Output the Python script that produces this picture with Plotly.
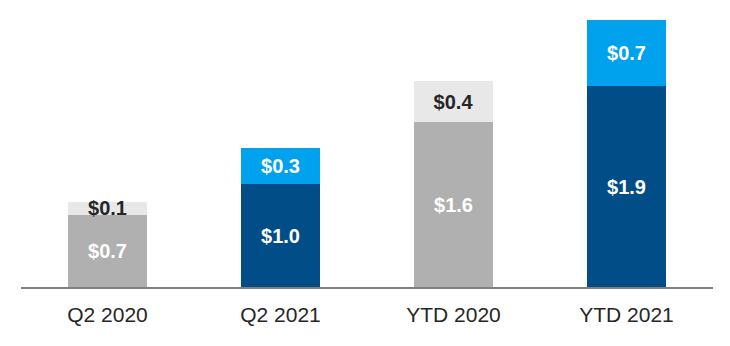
import plotly.graph_objects as go

categories = ["Q2 2020", "Q2 2021", "YTD 2020", "YTD 2021"]
base_values = [0.7, 1.0, 1.6, 1.95]
top_values = [0.13, 0.35, 0.4, 0.64]
base_labels = ["$0.7", "$1.0", "$1.6", "$1.9"]
top_labels = ["$0.1", "$0.3", "$0.4", "$0.7"]

base_colors = ["#b0b0b0", "#014d88", "#b0b0b0", "#014d88"]
top_colors = ["#e8e8e8", "#00a2ee", "#e8e8e8", "#00a2ee"]
top_text_colors = ["#262626", "#ffffff", "#262626", "#ffffff"]

font_family = "Liberation Sans, Arial, sans-serif"

fig = go.Figure()
fig.add_trace(go.Bar(
    x=categories, y=base_values, text=base_labels,
    marker=dict(color=base_colors, line=dict(width=0)),
    textposition="inside", insidetextanchor="middle", constraintext="none",
    textfont=dict(family=font_family, size=20, color="#ffffff", weight="bold"),
    width=0.462, cliponaxis=False, hoverinfo="skip",
))
fig.add_trace(go.Bar(
    x=categories, y=top_values, text=top_labels,
    marker=dict(color=top_colors, line=dict(width=0)),
    textposition="inside", insidetextanchor="middle", constraintext="none",
    textfont=dict(family=font_family, size=20, color=top_text_colors, weight="bold"),
    width=0.462, cliponaxis=False, hoverinfo="skip",
))

fig.update_layout(
    barmode="stack",
    width=730, height=346,
    margin=dict(l=21, r=17, t=9, b=59),
    paper_bgcolor="white", plot_bgcolor="white",
    showlegend=False,
    font=dict(family=font_family, color="#262626"),
    xaxis=dict(
        showline=True, linecolor="#808080", linewidth=2,
        ticks="outside", ticklen=8, tickcolor="rgba(0,0,0,0)",
        tickfont=dict(size=21, color="#262626", family=font_family),
        showgrid=False,
    ),
    yaxis=dict(range=[0, 2.7], visible=False, showgrid=False, zeroline=False),
)

fig.write_html("out.html")
